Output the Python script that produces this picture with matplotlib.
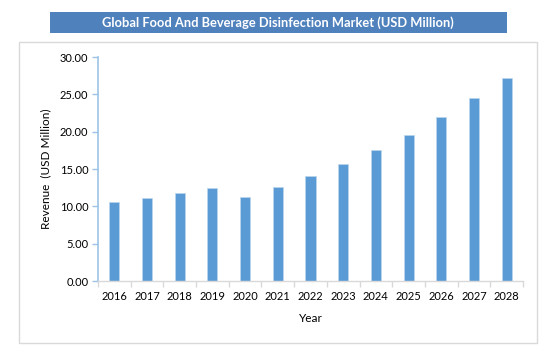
import matplotlib
matplotlib.use("Agg")
import matplotlib.pyplot as plt
from matplotlib.patches import Rectangle

years = ["2016", "2017", "2018", "2019", "2020", "2021", "2022",
         "2023", "2024", "2025", "2026", "2027", "2028"]
revenue = [10.53, 11.13, 11.80, 12.50, 11.26, 12.65, 14.04,
           15.70, 17.60, 19.50, 21.90, 24.45, 27.20]
yticks = [0, 5, 10, 15, 20, 25, 30]

plt.rcParams['font.family'] = ['Lato', 'DejaVu Sans']

W, H = 556, 363
fig = plt.figure(figsize=(W / 100, H / 100), dpi=100)

def fx(px):
    return px / W

def fy(py):
    return 1 - py / H

# outer border
fig.patches.append(Rectangle((fx(19), fy(343)), fx(537) - fx(19), fy(42) - fy(343),
                             transform=fig.transFigure, fill=False,
                             edgecolor="#D9D9D9", linewidth=1.0))
# title box
fig.patches.append(Rectangle((fx(50), fy(33)), fx(507) - fx(50), fy(12) - fy(33),
                             transform=fig.transFigure, facecolor="#4F81BD",
                             edgecolor="none"))
fig.text(fx(278), fy(22.5), "Global Food And Beverage Disinfection Market (USD Million)",
         color="white", ha="center", va="center", fontsize=9.3, fontweight="bold")

ax = fig.add_axes([fx(98), fy(281), fx(523) - fx(98), fy(57) - fy(281)])
x = list(range(len(years)))
ax.bar(x, revenue, width=0.31, color="#5B9BD5", edgecolor="#BDD7EE", linewidth=0.5)
ax.set_xlim(-0.5, len(years) - 0.5)
ax.set_ylim(0, 30)

for s in ["top", "right"]:
    ax.spines[s].set_visible(False)
ax.spines["left"].set_color("#9DC3E6")
ax.spines["left"].set_linewidth(1.2)
ax.spines["bottom"].set_color("#D9D9D9")
ax.spines["bottom"].set_linewidth(1.0)

ax.set_yticks(yticks)
ax.set_yticklabels([f"{v:.2f}" for v in yticks], fontsize=8, color="#000000")
ax.tick_params(axis="y", length=4, color="#9DC3E6", width=1, pad=3)

ax.set_xticks(x)
ax.set_xticklabels(years, fontsize=8, color="#000000")
ax.tick_params(axis="x", which="major", length=0, pad=7)
ax.set_xticks([i - 0.5 for i in range(len(years) + 1)], minor=True)
ax.tick_params(axis="x", which="minor", length=4, color="#D9D9D9", width=1)

ax.set_ylabel("Revenue  (USD Million)", fontsize=8.5, labelpad=6)
ax.set_xlabel("Year", fontsize=8.5, labelpad=8)

fig.savefig("out.png", dpi=100)
